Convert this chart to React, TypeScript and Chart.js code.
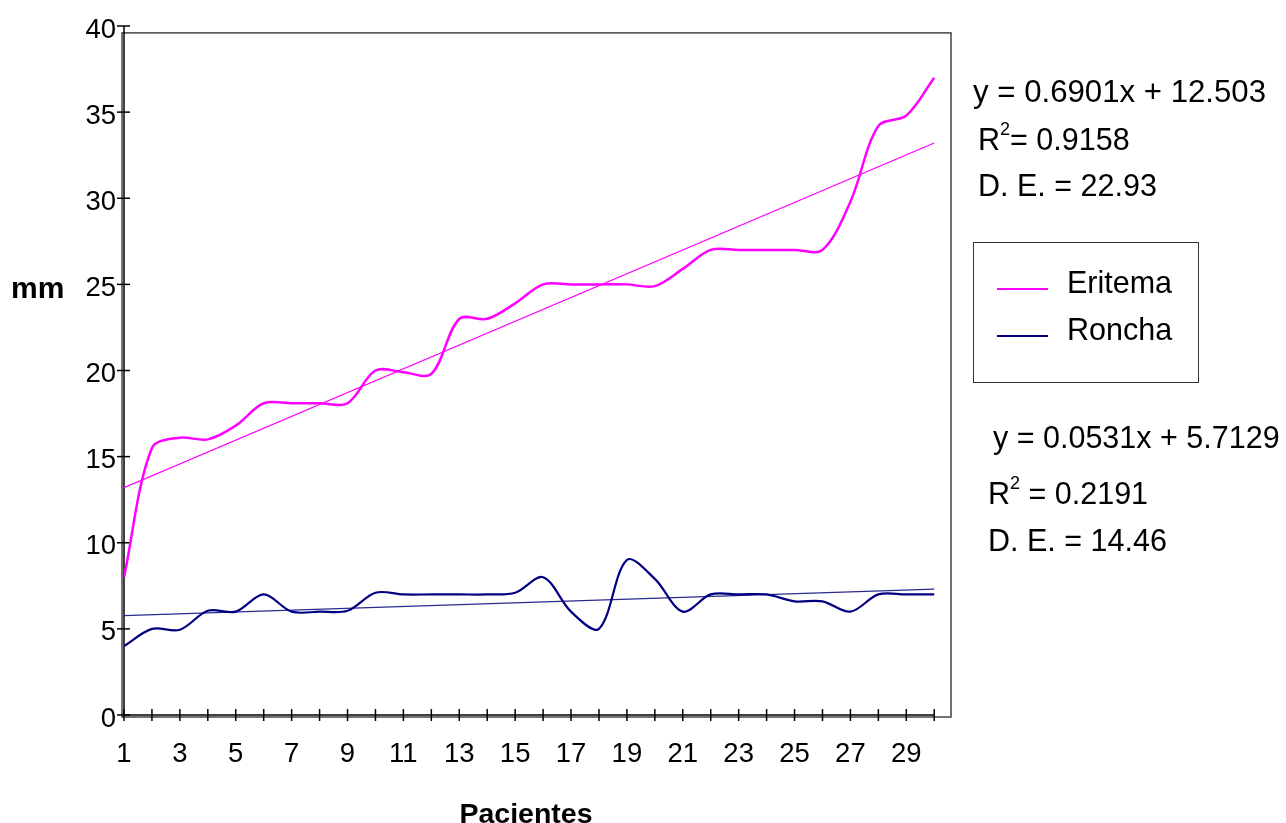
import React, { useEffect, useRef } from "react";
import { Chart, registerables } from "chart.js";

Chart.register(...registerables);

const patients = [1, 2, 3, 4, 5, 6, 7, 8, 9, 10, 11, 12, 13, 14, 15, 16, 17, 18, 19, 20, 21, 22, 23, 24, 25, 26, 27, 28, 29, 30];
const eritema = [8.0, 15.5, 16.1, 16.0, 16.8, 18.1, 18.1, 18.1, 18.1, 20.0, 19.9, 19.8, 23.0, 23.0, 23.9, 25.0, 25.0, 25.0, 25.0, 24.9, 25.9, 27.0, 27.0, 27.0, 27.0, 27.0, 29.8, 34.2, 34.8, 37.0];
const roncha = [4.0, 5.0, 4.95, 6.05, 6.0, 7.0, 6.0, 6.0, 6.05, 7.1, 7.0, 7.0, 7.0, 7.0, 7.1, 8.0, 6.0, 5.0, 9.0, 7.9, 6.0, 7.0, 7.0, 7.0, 6.6, 6.6, 6.0, 7.0, 7.0, 7.0];
const yTicks = [0, 5, 10, 15, 20, 25, 30, 35, 40];
const seriesNames = ["Eritema", "Roncha"];
const eritemaTrend = { slope: 0.6901, intercept: 12.503 };
const ronchaTrend = { slope: 0.0531, intercept: 5.7129 };
const eritemaStats = { eq: "y = 0.6901x + 12.503", r2: "= 0.9158", de: "D. E. = 22.93" };
const ronchaStats = { eq: "y = 0.0531x + 5.7129", r2: " = 0.2191", de: "D. E. = 14.46" };
const xTitle = "Pacientes";
const yTitle = "mm";

const MAGENTA = "#FF00FF";
const NAVY = "#000080";
const FONT = '"Liberation Sans", Arial, Helvetica, sans-serif';

function trendPoints(t: { slope: number; intercept: number }) {
  const first = patients[0];
  const last = patients[patients.length - 1];
  return [
    { x: first, y: t.slope * first + t.intercept },
    { x: last, y: t.slope * last + t.intercept },
  ];
}

const framePlugin = {
  id: "frameAndText",
  beforeDatasetsDraw(chart: any) {
    const { ctx, chartArea, scales } = chart;
    const x = scales.x;
    const y = scales.y;
    const line = (x1: number, y1: number, x2: number, y2: number) => {
      ctx.beginPath();
      ctx.moveTo(x1, y1);
      ctx.lineTo(x2, y2);
      ctx.stroke();
    };
    ctx.save();
    const x0 = x.getPixelForValue(patients[0]);
    const y0 = y.getPixelForValue(0);
    const frameTop = y.getPixelForValue(39.6);
    ctx.strokeStyle = "#444";
    ctx.lineWidth = 1.5;
    ctx.strokeRect(x0 - 2, frameTop, chartArea.right - (x0 - 2), y0 + 2 - frameTop);
    ctx.strokeStyle = "#000";
    ctx.lineWidth = 1.5;
    line(x0, y.getPixelForValue(40), x0, y0);
    line(x0, y0, x.getPixelForValue(patients[patients.length - 1]), y0);
    yTicks.forEach((v) => {
      const py = y.getPixelForValue(v);
      line(x0 - 7, py, x0 + 6, py);
    });
    patients.forEach((p) => {
      const px = x.getPixelForValue(p);
      line(px, y0 - 6, px, y0 + 6);
    });
    ctx.restore();
  },
  afterDraw(chart: any) {
    const { ctx } = chart;
    ctx.save();
    ctx.fillStyle = "#000";
    ctx.textBaseline = "middle";
    ctx.textAlign = "left";
    const big = `30.5px ${FONT}`;
    const eqFont = `31.2px ${FONT}`;
    const sup = `18px ${FONT}`;
    const drawR2 = (x: number, yy: number, rest: string) => {
      ctx.font = big;
      ctx.fillText("R", x, yy);
      const wR = ctx.measureText("R").width;
      ctx.font = sup;
      ctx.fillText("2", x + wR, yy - 12);
      const w2 = ctx.measureText("2").width;
      ctx.font = big;
      ctx.fillText(rest, x + wR + w2, yy);
    };
    ctx.font = eqFont;
    ctx.fillText(eritemaStats.eq, 973, 93);
    drawR2(978, 142, eritemaStats.r2);
    ctx.font = big;
    ctx.fillText(eritemaStats.de, 978, 188);

    ctx.font = big;
    ctx.fillText(ronchaStats.eq, 993, 440);
    drawR2(988, 496, ronchaStats.r2);
    ctx.font = big;
    ctx.fillText(ronchaStats.de, 988, 543);

    // legend
    ctx.strokeStyle = "#333";
    ctx.lineWidth = 1;
    ctx.strokeRect(973.5, 242.5, 225, 140);
    const rows = [
      { name: seriesNames[0], color: MAGENTA, y: 285 },
      { name: seriesNames[1], color: NAVY, y: 332 },
    ];
    rows.forEach((r) => {
      ctx.strokeStyle = r.color;
      ctx.lineWidth = 2;
      ctx.beginPath();
      ctx.moveTo(997, r.y + 4);
      ctx.lineTo(1048, r.y + 4);
      ctx.stroke();
      ctx.font = big;
      ctx.fillText(r.name, 1067, r.y);
    });

    // axis titles
    ctx.font = `bold 30px ${FONT}`;
    ctx.fillText(yTitle, 11, 290);
    ctx.font = `bold 28.5px ${FONT}`;
    ctx.textAlign = "center";
    ctx.fillText(xTitle, 526, 815);
    ctx.restore();
  },
};

export default function App() {
  const ref = useRef<HTMLCanvasElement | null>(null);
  useEffect(() => {
    if (!ref.current) return;
    const chart = new Chart(ref.current, {
      type: "line",
      data: {
        datasets: [
          {
            label: seriesNames[0],
            data: patients.map((p, i) => ({ x: p, y: eritema[i] })),
            borderColor: MAGENTA,
            borderWidth: 2.5,
            pointRadius: 0,
            tension: 0.33,
            fill: false,
          },
          {
            label: seriesNames[1],
            data: patients.map((p, i) => ({ x: p, y: roncha[i] })),
            borderColor: NAVY,
            borderWidth: 2.2,
            pointRadius: 0,
            tension: 0.33,
            fill: false,
          },
          {
            label: "trend1",
            data: trendPoints(eritemaTrend),
            borderColor: MAGENTA,
            borderWidth: 1.3,
            pointRadius: 0,
            tension: 0,
            fill: false,
          },
          {
            label: "trend2",
            data: trendPoints(ronchaTrend),
            borderColor: "#2a2a90",
            borderWidth: 1.2,
            pointRadius: 0,
            tension: 0,
            fill: false,
          },
        ],
      },
      options: {
        responsive: false,
        animation: false,
        devicePixelRatio: 1,
        layout: { padding: { left: 0, top: 26, right: 335, bottom: 0 } },
        plugins: { legend: { display: false }, tooltip: { enabled: false } },
        scales: {
          x: {
            type: "linear",
            min: 1,
            max: 30.6,
            grid: { display: false, drawTicks: false },
            border: { display: false },
            afterFit: (s: any) => {
              s.height = 108;
            },
            ticks: {
              stepSize: 1,
              includeBounds: false,
              autoSkip: false,
              maxRotation: 0,
              padding: 23,
              color: "#000",
              font: { family: FONT, size: 27.5 },
              callback: (v: any) => (Number(v) % 2 === 1 ? String(v) : ""),
            },
          },
          y: {
            min: 0,
            max: 40,
            grid: { display: false, drawTicks: false },
            border: { display: false },
            afterFit: (s: any) => {
              s.width = 124;
            },
            ticks: {
              stepSize: 5,
              padding: 8,
              labelOffset: 4,
              color: "#000",
              font: { family: FONT, size: 27.5 },
            },
          },
        },
      },
      plugins: [framePlugin],
    } as any);
    return () => chart.destroy();
  }, []);
  return (
    <div style={{ position: "absolute", left: 0, top: 0, width: 1286, height: 823, background: "#fff" }}>
      <canvas ref={ref} width={1286} height={823} style={{ display: "block" }} />
    </div>
  );
}
